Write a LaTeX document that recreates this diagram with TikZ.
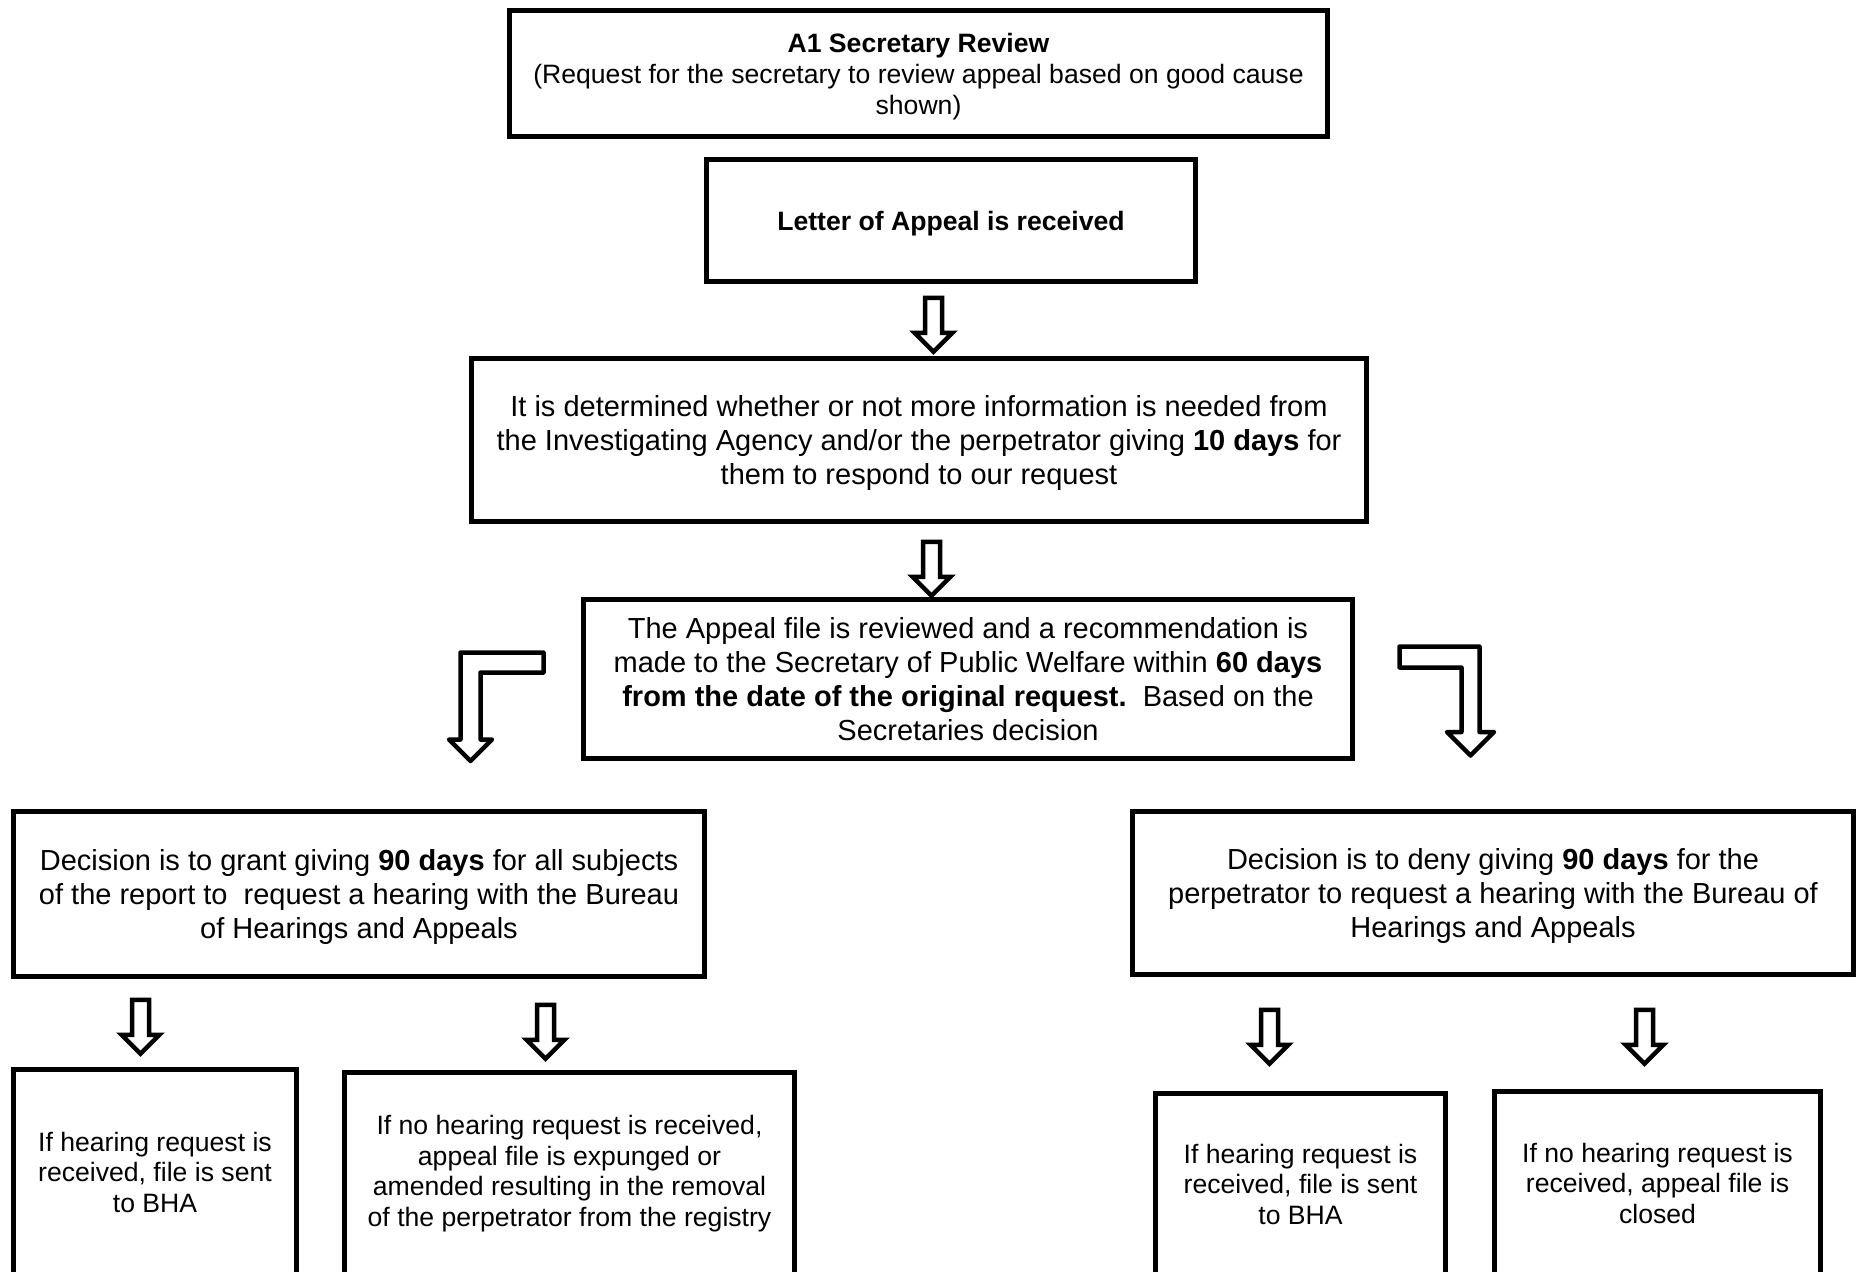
\documentclass[tikz,border=0pt]{standalone}
\usepackage{fontspec}
\setmainfont{Liberation Sans}
\usetikzlibrary{shapes}
\usetikzlibrary{shapes.arrows}
\usetikzlibrary{positioning}
\usetikzlibrary{calc}

\begin{document}
\begin{tikzpicture}[x=1pt,y=-1pt]
\tikzstyle{block} = [rectangle, draw=black, line width=4.8pt, fill=white, align=center, inner sep=0pt]
\tikzstyle{big} = [font=\fontsize{29}{34}\selectfont, text depth=0pt]
\tikzstyle{small} = [font=\fontsize{26.6}{30.5}\selectfont]
\tikzstyle{down} = [single arrow, draw=black, line width=4.5pt, fill=white, rotate=-90, minimum height=54pt, minimum width=34pt, single arrow head extend=10.5pt, inner xsep=0pt, inner ysep=6.25pt, text height=0pt, text depth=0pt, anchor=tail]
\tikzstyle{bent} = [draw=black, line width=4.5pt, line join=round, fill=white]
\fill [white] (0,0) rectangle (1862,1271);
\useasboundingbox (0,0) rectangle (1862,1271);
\clip (0,0) rectangle (1862,1271);
% row 1
\node [block, small, minimum width=818pt, minimum height=126pt, font=\fontsize{26.6}{31}\selectfont, text depth=0pt] (secretary) at (918.5,73.5) {\textbf{A1 Secretary Review}\\(Request for the secretary to review appeal based on good cause\\shown)};
% row 2
\node [block, small, minimum width=489pt, minimum height=122pt, text depth=0pt] (letter) at (951,220.5) {\textbf{Letter of Appeal is received}};
% row 3
\node [block, big, minimum width=895pt, minimum height=163pt] (determine) at (919,440) {It is determined whether or not more information is needed from\\the Investigating Agency and/or the perpetrator giving \textbf{10 days} for\\them to respond to our request};
% row 4
\node [block, big, minimum width=769pt, minimum height=159pt] (review) at (968,679) {The Appeal file is reviewed and a recommendation is\\made to the Secretary of Public Welfare within \textbf{60 days}\\\textbf{from the date of the original request.}\ \ Based on the\\Secretaries decision};
% row 5
\node [block, big, minimum width=691pt, minimum height=165pt] (grant) at (359,894) {Decision is to grant giving \textbf{90 days} for all subjects\\of the report to\ \ request a hearing with the Bureau\\of Hearings and Appeals};
\node [block, big, minimum width=721pt, minimum height=163pt] (deny) at (1493,893) {Decision is to deny giving \textbf{90 days} for the\\perpetrator to request a hearing with the Bureau of\\Hearings and Appeals};
% row 6
\node [block, small, minimum width=283pt, minimum height=205pt] (grantsent) at (155,1172) {If hearing request is\\received, file is sent\\to BHA};
\node [block, small, minimum width=450pt, minimum height=202pt] (expunged) at (569.5,1173.5) {If no hearing request is received,\\appeal file is expunged or\\amended resulting in the removal\\of the perpetrator from the registry};
\node [block, small, minimum width=290pt, minimum height=181pt] (denysent) at (1300.5,1184) {If hearing request is\\received, file is sent\\to BHA};
\node [block, small, minimum width=326pt, minimum height=183pt] (closed) at (1657.5,1183) {If no hearing request is\\received, appeal file is\\closed};
% arrows
\node [down] (a1) at (933.5,295.5) {};
\node [down] (a2) at (931.5,539.5) {};
\node [down] (a3) at (140.5,997.5) {};
\node [down] (a4) at (545.5,1002.5) {};
\node [down] (a5) at (1269.5,1007.5) {};
\node [down] (a6) at (1644.5,1007.5) {};
\draw [bent] (543.5,652.5) -- (460.5,652.5) -- (460.5,739.5) -- (449,739.5) -- (470.5,761) -- (492,739.5) -- (480.5,739.5) -- (480.5,672.5) -- (543.5,672.5) -- cycle;
\draw [bent] (1399.5,646.5) -- (1479.5,646.5) -- (1479.5,732) -- (1494,732) -- (1470.5,755.5) -- (1447,732) -- (1461.5,732) -- (1461.5,667.5) -- (1399.5,667.5) -- cycle;
\end{tikzpicture}
\end{document}
